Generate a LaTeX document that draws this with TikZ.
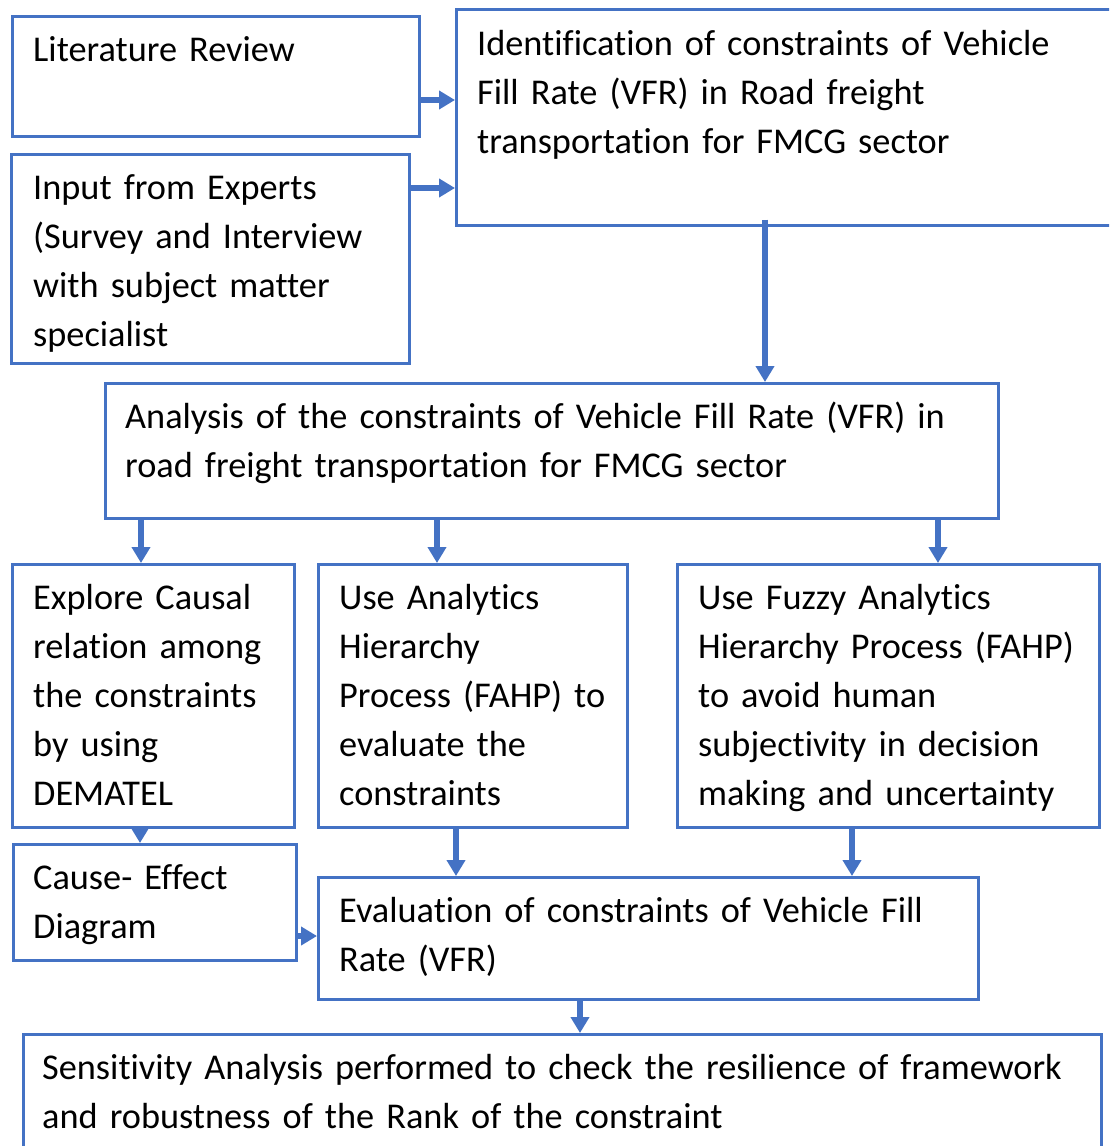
\documentclass[tikz,border=0pt]{standalone}
\usepackage{fontspec}
\setmainfont{Carlito}[Ligatures={NoCommon}]
\usetikzlibrary{arrows.meta}
\definecolor{boxblue}{HTML}{4472C4}
\tikzset{
  box/.style={draw=boxblue, line width=2.6pt, anchor=north west, inner sep=0pt, fill=none},
  txt/.style={anchor=north west, inner sep=0pt, align=left, text width=1060pt,
    font=\fontsize{36.3}{49}\selectfont, yshift=34.3pt, execute at begin node=\strut},
  flow/.style={draw=boxblue, line width=5.5pt,
    -{Triangle[width=18pt,length=16pt]}, shorten >=0pt},
}
\newcommand{\boxat}[5]{% name, x1, y1, x2, y2
  \node[box, minimum width={#4-#2}, minimum height={#5-#3}] (#1) at (#2,#3) {};}
\begin{document}
\begin{tikzpicture}[x=1pt,y=-1pt]
\useasboundingbox (0,0) rectangle (1109,1146);
\clip (0,0) rectangle (1109,1146);
\fill[white] (0,0) rectangle (1109,1146);

% boxes
\boxat{lit}{11}{15}{418}{135}
\boxat{exp}{10}{153}{408}{362}
\boxat{ident}{455}{8}{1118}{224}
\boxat{anal}{104}{382}{997}{517}
\boxat{expl}{11}{563}{293}{826}
\boxat{usea}{317}{563}{626}{826}
\boxat{fuzzy}{676}{563}{1098}{826}
\boxat{cause}{12}{843}{295}{959}
\boxat{eval}{317}{876}{977}{998}
\boxat{sens}{22}{1033}{1100}{1160}

% texts (positioned at first baseline)
\node[txt] (litT) at (33,61) {Literature Review};
\node[txt] (expT) at (33,199) {Input from Experts\\(Survey and Interview\\with subject matter\\specialist};
\node[txt] (identT) at (477,55) {Identification of constraints of Vehicle\\Fill Rate (VFR) in Road freight\\transportation for FMCG sector};
\node[txt] (analT) at (125,428) {Analysis of the constraints of Vehicle Fill Rate (VFR) in\\road freight transportation for FMCG sector};
\node[txt] (explT) at (33,609) {Explore Causal\\relation among\\the constraints\\by using\\DEMATEL};
\node[txt] (useaT) at (339,609) {Use Analytics\\Hierarchy\\Process (FAHP) to\\evaluate the\\constraints};
\node[txt] (fuzzyT) at (698,609) {Use Fuzzy Analytics\\Hierarchy Process (FAHP)\\to avoid human\\subjectivity in decision\\making and uncertainty};
\node[txt] (causeT) at (33,889) {Cause- Effect\\Diagram};
\node[txt] (evalT) at (339,922) {Evaluation of constraints of Vehicle Fill\\Rate (VFR)};
\node[txt] (sensT) at (42,1079) {Sensitivity Analysis performed to check the resilience of framework\\and robustness of the Rank of the constraint};

% connectors
\draw[flow] (lit.east |- 0,100) -- (ident.west |- 0,100);
\draw[flow] (exp.east |- 0,188) -- (ident.west |- 0,188);
\draw[flow] ([yshift=7pt]ident.south -| 765,0) -- (anal.north -| 765,0);
\draw[flow] (anal.south -| 141,0) -- (expl.north -| 141,0);
\draw[flow] (anal.south -| 437,0) -- (usea.north -| 437,0);
\draw[flow] (anal.south -| 938,0) -- (fuzzy.north -| 938,0);
\draw[flow] (expl.south -| 140,0) -- (cause.north -| 140,0);
\draw[flow] (usea.south -| 456,0) -- (eval.north -| 456,0);
\draw[flow] (fuzzy.south -| 852,0) -- (eval.north -| 852,0);
\draw[flow] (cause.east |- 0,936) -- (eval.west |- 0,936);
\draw[flow] (eval.south -| 580,0) -- (sens.north -| 580,0);
\end{tikzpicture}
\end{document}
